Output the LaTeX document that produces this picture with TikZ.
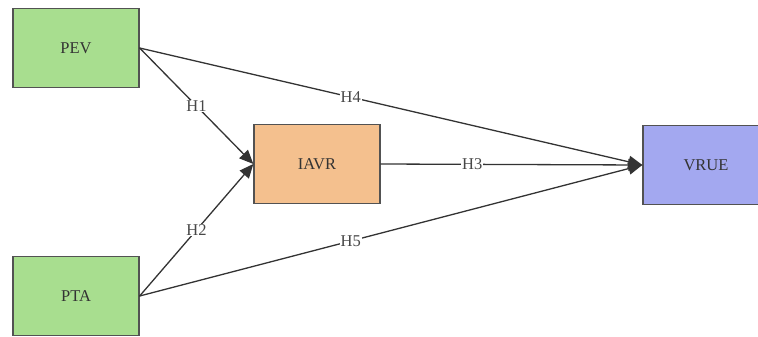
\documentclass[tikz,border=0pt]{standalone}
\usepackage{fontspec}
\setmainfont{Liberation Serif}
\usepackage{xcolor}
\definecolor{mygreen}{RGB}{168,222,143}
\definecolor{myorange}{RGB}{244,192,142}
\definecolor{myblue}{RGB}{163,168,240}
\definecolor{mygray}{RGB}{51,51,51}
\usetikzlibrary{arrows.meta}

\begin{document}
\begin{tikzpicture}[x=1pt,y=-1pt,line cap=round,font=\fontsize{16.5}{19}\selectfont]
	\tikzstyle{var}=[draw=mygray!85,line width=1.3pt,minimum width=126pt,minimum height=79pt,inner sep=0pt,text=mygray];
	\tikzstyle{hyp}=[draw=mygray,line width=1.3pt,-{Triangle[length=14pt,width=12pt]}];
	\tikzstyle{lab}=[fill=white,inner sep=1pt,text=mygray!90];
	\useasboundingbox (0,0) rectangle (758,337);
	\clip (0,0) rectangle (758,337);
	%% Nodes
	\node[var,fill=mygreen]  (PEV)  at (76,48)  {PEV};
	\node[var,fill=mygreen]  (PTA)  at (76,296) {PTA};
	\node[var,fill=myorange] (IAVR) at (317,164) {IAVR};
	\node[var,fill=myblue]   (VRUE) at (706,165) {VRUE};
	%% Hypotheses
	\draw[hyp] (PEV.east)  -- node[lab,pos=0.5]{H1} (IAVR.west);
	\draw[hyp] (PTA.east)  -- node[lab,pos=0.5]{H2} (IAVR.west);
	\draw[hyp] (IAVR.east) -- node[lab,pos=0.35]{H3} (VRUE.west);
	\draw[hyp] (PEV.east)  -- node[lab,pos=0.42]{H4} (VRUE.west);
	\draw[hyp] (PTA.east)  -- node[lab,pos=0.42]{H5} (VRUE.west);
\end{tikzpicture}
\end{document}
